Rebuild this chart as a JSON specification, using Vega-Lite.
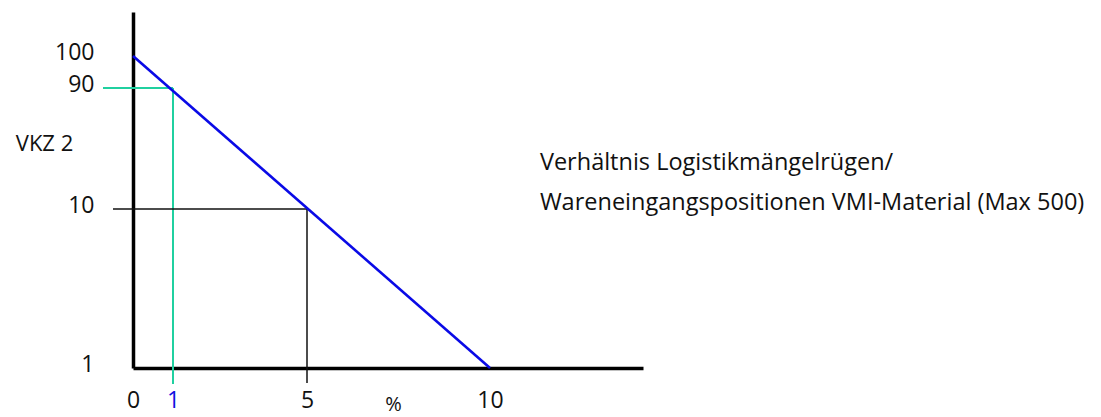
{
  "$schema": "https://vega.github.io/schema/vega-lite/v6.json",
  "autosize": {"type": "none"},
  "padding": {"left": 133, "top": 12, "right": 458, "bottom": 49},
  "width": 510,
  "height": 356,
  "background": "white",
  "config": {
    "view": {"stroke": null},
    "font": "Open Sans",
    "text": {"font": "Open Sans"}
  },
  "datasets": {
    "green": [
      {"x": -0.75, "y": 90, "x2": 1, "y2": 90},
      {"x": 1, "y": 90, "x2": 1, "y2": 0.1}
    ],
    "black": [
      {"x": -0.5, "y": 10, "x2": 5, "y2": 10},
      {"x": 5, "y": 10, "x2": 5, "y2": 0.15}
    ],
    "blue": [
      {"x": 0, "y": 100},
      {"x": 10, "y": 1}
    ],
    "notes": [
      {"x": 11.37, "y": 40.4, "text": "Verhältnis Logistikmängelrügen/"},
      {"x": 11.37, "y": 13.97, "text": "Wareneingangspositionen VMI-Material (Max 500)"}
    ]
  },
  "encoding": {
    "x": {
      "field": "x",
      "type": "quantitative",
      "scale": {"domain": [0, 1, 5, 10, 14.2], "range": [0, 40, 174, 357, 510], "nice": false, "zero": false},
      "axis": {
        "values": [0, 1, 5, 10],
        "grid": false,
        "ticks": false,
        "domainColor": "black",
        "domainWidth": 3.5,
        "labelFont": "Open Sans",
        "labelFontSize": 23,
        "labelColor": {"condition": {"test": "datum.value === 1", "value": "#1010e0"}, "value": "#111111"},
        "labelPadding": 32,
        "labelBaseline": "middle",
        "labelFlush": false,
        "labelOverlap": false,
        "title": "%",
        "titleFont": "Open Sans",
        "titleFontSize": 20,
        "titleFontWeight": "normal",
        "titleColor": "#111111",
        "titleX": 260,
        "titleY": 36,
        "titleAlign": "center",
        "titleBaseline": "middle"
      }
    },
    "y": {
      "field": "y",
      "type": "quantitative",
      "scale": {"domain": [1, 10, 90, 100, 113.75], "range": [356, 197, 76, 44, 0], "nice": false, "zero": false},
      "axis": {
        "values": [1, 10, 90, 100],
        "grid": false,
        "ticks": false,
        "domainColor": "black",
        "domainWidth": 3.5,
        "labelFont": "Open Sans",
        "labelFontSize": 23,
        "labelColor": "#111111",
        "labelPadding": 39,
        "labelOffset": -4,
        "labelFlush": false,
        "labelOverlap": false,
        "title": "VKZ 2",
        "titleFont": "Open Sans",
        "titleFontSize": 22,
        "titleFontWeight": "normal",
        "titleColor": "#111111",
        "titleAngle": 0,
        "titleX": -89,
        "titleY": 131,
        "titleAlign": "center",
        "titleBaseline": "middle"
      }
    }
  },
  "layer": [
    {
      "data": {"name": "green"},
      "mark": {"type": "rule", "color": "#20d0a0", "strokeWidth": 2},
      "encoding": {"x2": {"field": "x2"}, "y2": {"field": "y2"}}
    },
    {
      "data": {"name": "black"},
      "mark": {"type": "rule", "color": "#111111", "strokeWidth": 1.5},
      "encoding": {"x2": {"field": "x2"}, "y2": {"field": "y2"}}
    },
    {
      "data": {"name": "blue"},
      "mark": {"type": "line", "color": "#0a0ae6", "strokeWidth": 2.6},
      "encoding": {}
    },
    {
      "data": {"name": "notes"},
      "mark": {"type": "text", "align": "left", "baseline": "middle", "fontSize": 23.5, "color": "#111111", "font": "Open Sans"},
      "encoding": {"text": {"field": "text"}}
    }
  ]
}
